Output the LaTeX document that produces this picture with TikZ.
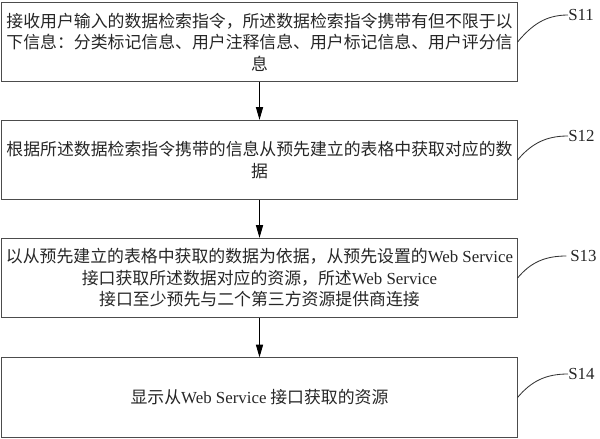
\documentclass[tikz,border=0pt]{standalone}
\usepackage{fontspec}
\setmainfont{Liberation Serif}
\newfontfamily\cjk{Noto Sans CJK SC}
\usetikzlibrary{arrows.meta}
\begin{document}
\begin{tikzpicture}[x=0.025cm, y=-0.025cm,
	stepbox/.style={draw=black!70, line width=0.7pt, text=black!85, minimum width=12.875cm, minimum height=1.98cm, inner sep=0pt, align=center, font=\cjk\fontsize{12pt}{15.3pt}\selectfont},
	steplabel/.style={anchor=west, inner sep=0pt, text=black!85, font=\fontsize{12pt}{14pt}\selectfont},
	flow/.style={line width=0.7pt, -{Triangle[length=9pt,width=5pt]}},
	lead/.style={line width=0.6pt, black!80}]
				\useasboundingbox (0,0) rectangle (600,439);
				\node[stepbox] (b1) at (259.5,42) {接收用户输入的数据检索指令，所述数据检索指令携带有但不限于以\\下信息：分类标记信息、用户注释信息、用户标记信息、用户评分信\\息};
				\node[stepbox] (b2) at (259.5,160) {根据所述数据检索指令携带的信息从预先建立的表格中获取对应的数\\据};
				\node[stepbox] (b3) at (259.5,278) {以从预先建立的表格中获取的数据为依据，从预先设置的{\rmfamily Web Service}\\接口获取所述数据对应的资源，所述{\rmfamily Web Service}\\接口至少预先与二个第三方资源提供商连接};
				\node[stepbox] (b4) at (259.5,397.5) {显示从{\rmfamily Web Service} 接口获取的资源};
				
				\node[steplabel] (s11) at (568,15) {S11};
				\node[steplabel] (s12) at (568,136) {S12};
				\node[steplabel] (s13) at (570,256) {S13};
				\node[steplabel] (s14) at (568,374) {S14};
				
				\draw[flow] (b1) -- (b2);
				\draw[flow] (b2) -- (b3);
				\draw[flow] (b3) -- (b4);
				
				\draw[lead] (b1.east) to[out=50, in=180] (s11.west);
				\draw[lead] (b2.east) to[out=50, in=180] (s12.west);
				\draw[lead] (b3.east) to[out=50, in=180] ([xshift=-2.5pt]s13.west);
				\draw[lead] (b4.east) to[out=50, in=180] (s14.west);
			\end{tikzpicture}
\end{document}
